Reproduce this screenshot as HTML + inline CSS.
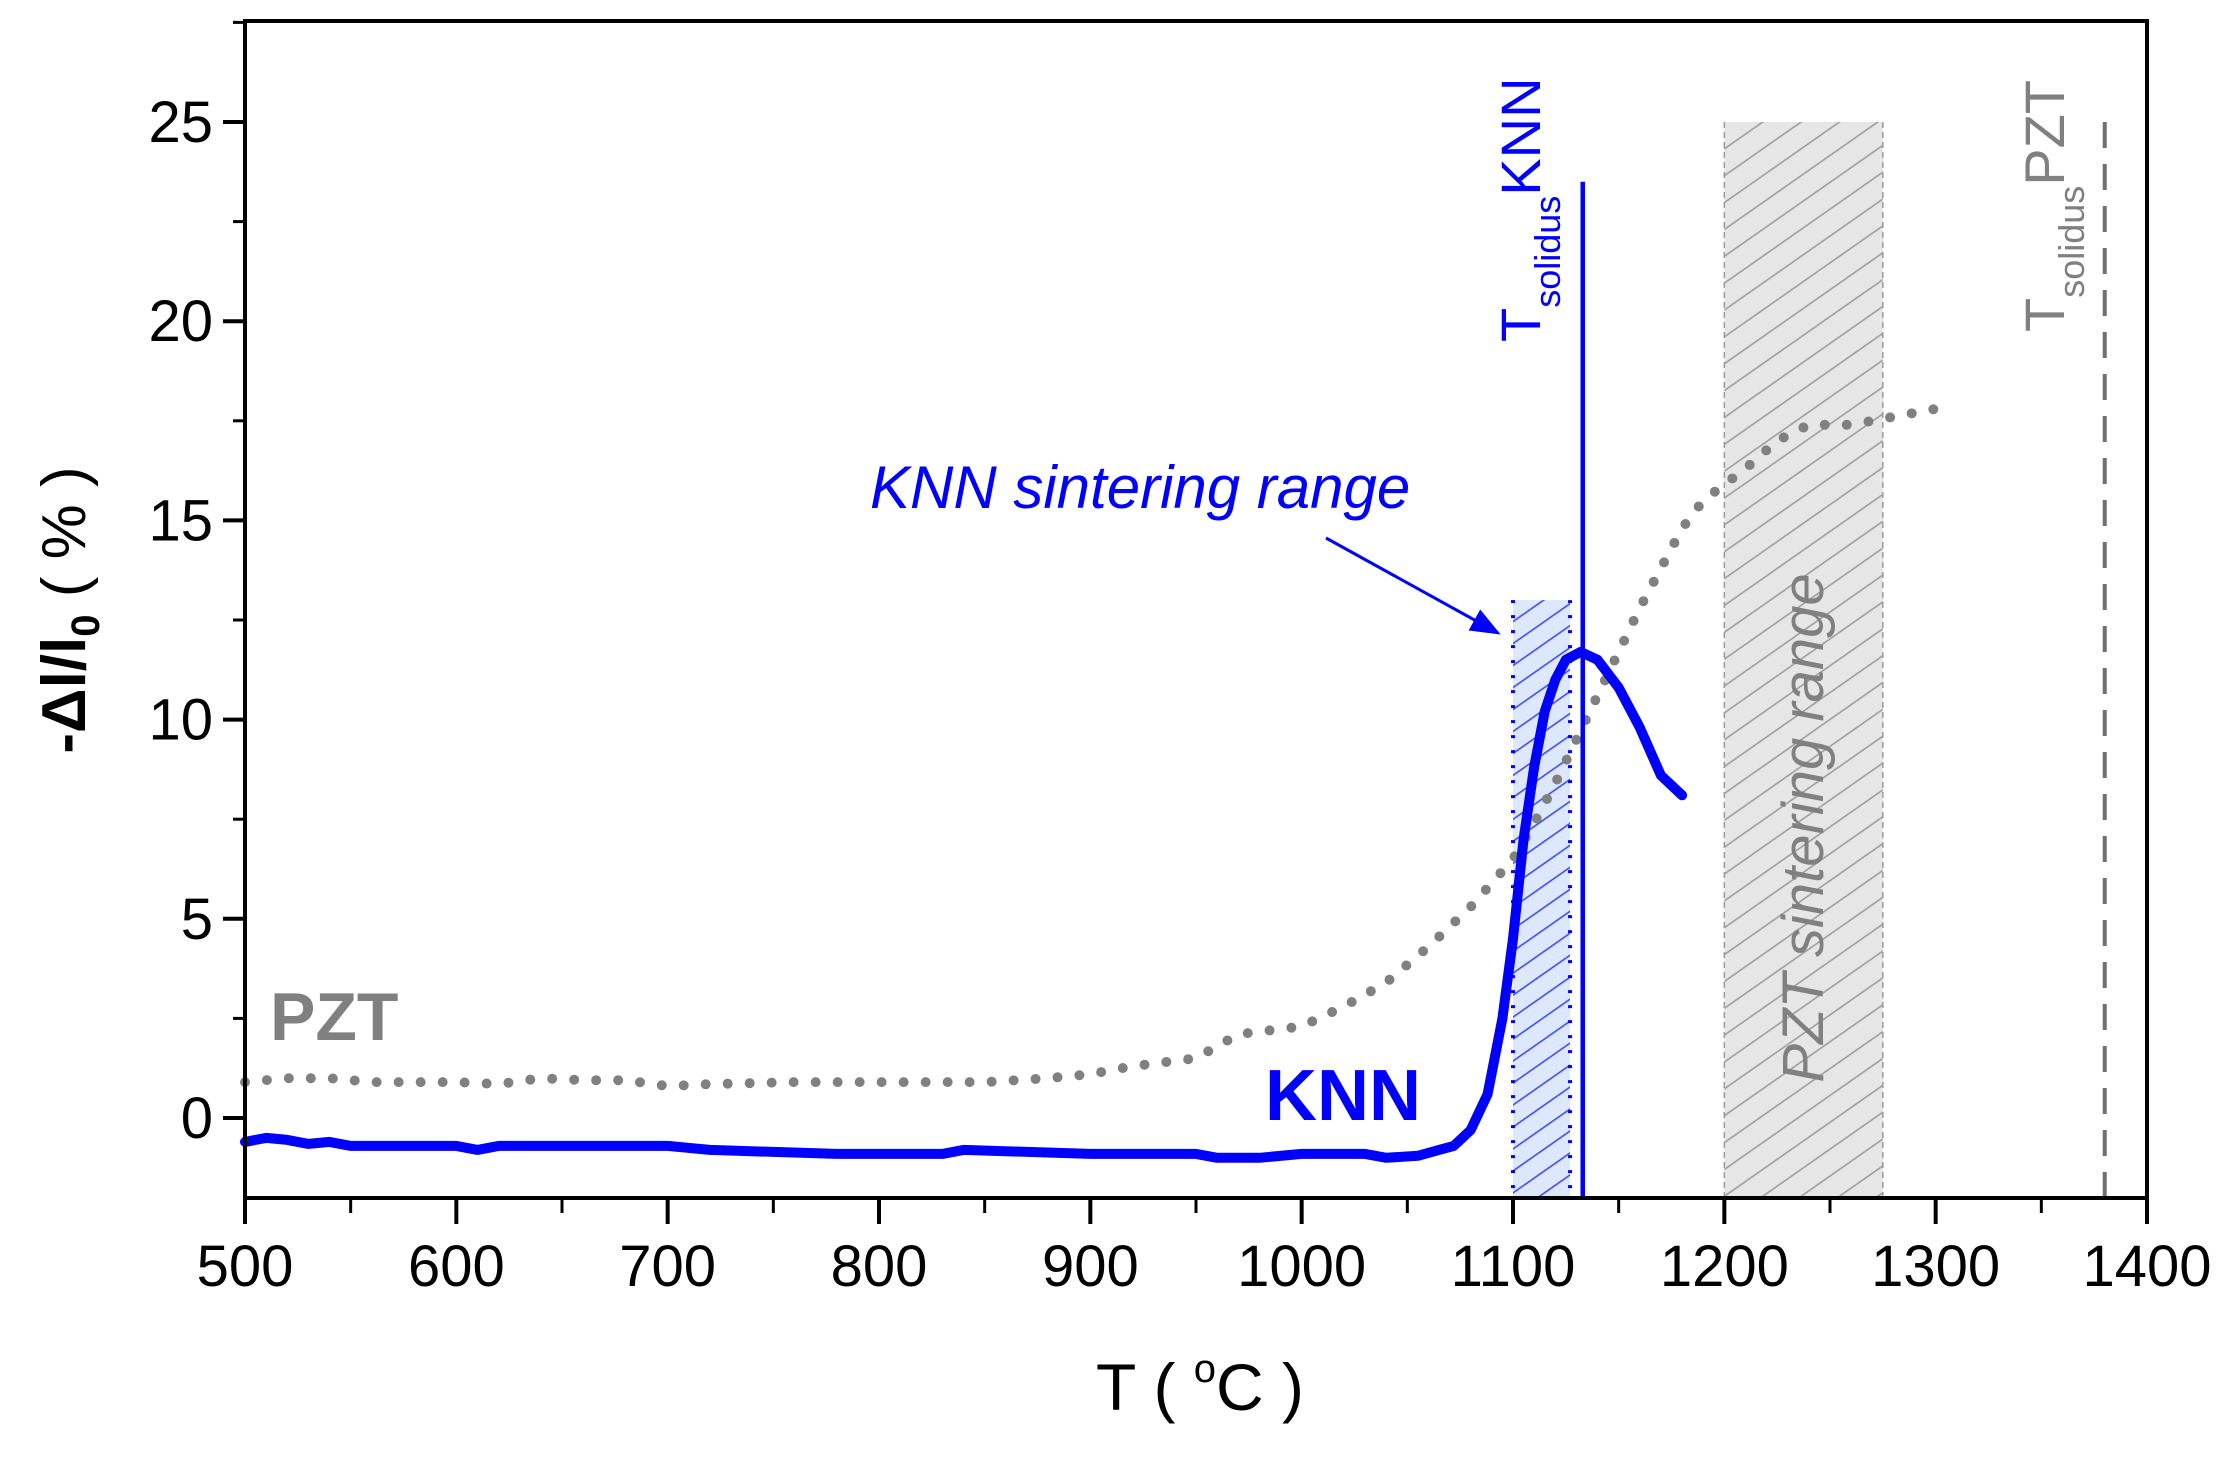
<!DOCTYPE html>
<html><head><meta charset="utf-8"><style>
html,body{margin:0;padding:0;background:#fff;}
svg{display:block;font-family:"Liberation Sans",Arial,sans-serif;}
</style></head><body>
<svg id="chart" width="2230" height="1459" viewBox="0 0 2230 1459" xmlns="http://www.w3.org/2000/svg">
<defs>
<pattern id="hatchBlue" patternUnits="userSpaceOnUse" width="18" height="18" patternTransform="rotate(-35)"><line x1="0" y1="9" x2="18" y2="9" stroke="#3344ee" stroke-width="1.6"/></pattern>
<pattern id="hatchGray" patternUnits="userSpaceOnUse" width="22" height="22" patternTransform="rotate(-35)"><line x1="0" y1="11" x2="22" y2="11" stroke="#999" stroke-width="1.6"/></pattern>
<marker id="arrowHead" markerWidth="10" markerHeight="8" refX="9" refY="4" orient="auto" markerUnits="strokeWidth"><path d="M0,0 L10,4 L0,8 z" fill="#0000ff"/></marker>
</defs>
<g id="plot"></g>
</svg>
<script>
const xTicks = [500,600,700,800,900,1000,1100,1200,1300,1400];
const yTicks = [0,5,10,15,20,25];
const knnT = [500,510,520,530,540,550,560,600,610,620,700,720,780,830,840,900,950,960,980,1000,1030,1040,1055,1065,1072,1080,1088,1095,1100,1105,1110,1115,1120,1125,1132,1140,1150,1160,1170,1180];
const knnV = [-0.6,-0.5,-0.55,-0.65,-0.6,-0.7,-0.7,-0.7,-0.8,-0.7,-0.7,-0.8,-0.9,-0.9,-0.8,-0.9,-0.9,-1.0,-1.0,-0.9,-0.9,-1.0,-0.95,-0.8,-0.7,-0.3,0.6,2.5,4.5,7.0,8.8,10.2,11.0,11.5,11.7,11.5,10.8,9.8,8.6,8.1];
const pztT = [500,520,540,560,600,620,640,660,680,700,720,760,800,850,880,900,920,950,970,1000,1020,1040,1060,1080,1100,1110,1120,1130,1140,1150,1160,1170,1180,1190,1200,1210,1225,1240,1260,1280,1300];
const pztV = [0.9,1.0,1.0,0.9,0.9,0.85,1.0,0.95,0.95,0.8,0.85,0.9,0.9,0.9,1.0,1.1,1.3,1.5,2.1,2.3,2.8,3.4,4.3,5.3,6.5,7.4,8.4,9.5,10.6,11.7,12.8,13.8,14.8,15.5,15.9,16.3,17.0,17.4,17.4,17.6,17.8];
const knnRange = [1100,1127,13];
const pztRange = [1200,1275,25];
const knnSolidus = [1133,23.5];
const pztSolidus = [1380,25];

const L=245,R=2147,T=21,B=1198;
const X=v=>L+(v-500)*(R-L)/900;
const Y=v=>1118-v*39.84;
const NS="http://www.w3.org/2000/svg";
const g=document.getElementById('plot');
function mk(tag,attrs,parent){const e=document.createElementNS(NS,tag);for(const k in attrs)e.setAttribute(k,attrs[k]);(parent||g).appendChild(e);return e;}

let r=mk('rect',{x:X(knnRange[0]),y:Y(knnRange[2]),width:X(knnRange[1])-X(knnRange[0]),height:B-Y(knnRange[2]),fill:'#dde8ff'});


mk('rect',{x:X(knnRange[0]),y:Y(knnRange[2]),width:X(knnRange[1])-X(knnRange[0]),height:B-Y(knnRange[2]),fill:'url(#hatchBlue)'});
[knnRange[0],knnRange[1]].forEach(v=>mk('line',{x1:X(v),x2:X(v),y1:Y(knnRange[2]),y2:B,stroke:'#0000ff','stroke-width':4,'stroke-dasharray':'3 12'}));
r=mk('rect',{x:X(pztRange[0]),y:Y(pztRange[2]),width:X(pztRange[1])-X(pztRange[0]),height:B-Y(pztRange[2]),fill:'#e6e6e6'});


mk('rect',{x:X(pztRange[0]),y:Y(pztRange[2]),width:X(pztRange[1])-X(pztRange[0]),height:B-Y(pztRange[2]),fill:'url(#hatchGray)'});
[pztRange[0],pztRange[1]].forEach(v=>mk('line',{x1:X(v),x2:X(v),y1:Y(pztRange[2]),y2:B,stroke:'#999','stroke-width':1.5,'stroke-dasharray':'6 4'}));

let d=pztT.map((t,i)=>(i?'L':'M')+X(t).toFixed(1)+','+Y(pztV[i]).toFixed(1)).join(' ');
let p=mk('path',{d:d,fill:'none',stroke:'#808080','stroke-width':10,'stroke-linecap':'round','stroke-dasharray':'0 22'});



let l=mk('line',{x1:X(knnSolidus[0]),x2:X(knnSolidus[0]),y1:Y(knnSolidus[1]),y2:B,stroke:'#0000ff','stroke-width':4.5});


l=mk('line',{x1:X(pztSolidus[0]),x2:X(pztSolidus[0]),y1:Y(pztSolidus[1]),y2:B,stroke:'#707070','stroke-width':4,'stroke-dasharray':'26 16'});



d=knnT.map((t,i)=>(i?'L':'M')+X(t).toFixed(1)+','+Y(knnV[i]).toFixed(1)).join(' ');
p=mk('path',{d:d,fill:'none',stroke:'#0000ff','stroke-width':10,'stroke-linejoin':'round','stroke-linecap':'round'});



let f=mk('rect',{x:L,y:T,width:R-L,height:B-T,fill:'none',stroke:'#000','stroke-width':4});



xTicks.forEach((v,i)=>{
  mk('line',{x1:X(v),x2:X(v),y1:B,y2:B+26,stroke:'#000','stroke-width':4});
  if(i<xTicks.length-1) mk('line',{x1:X(v+50),x2:X(v+50),y1:B,y2:B+15,stroke:'#000','stroke-width':3});
  const t=mk('text',{x:X(v),y:B+88,'font-size':58,'text-anchor':'middle',fill:'#000'});
  t.textContent=v;
  
  
});
yTicks.forEach(v=>{
  mk('line',{x1:L,x2:L-22,y1:Y(v),y2:Y(v),stroke:'#000','stroke-width':4});
  mk('line',{x1:L,x2:L-12,y1:Y(v+2.5),y2:Y(v+2.5),stroke:'#000','stroke-width':3});
  const t=mk('text',{x:L-32,y:Y(v)+20,'font-size':58,'text-anchor':'end',fill:'#000'});
  t.textContent=v;
  
  
});
</script>
<svg style="position:absolute;left:0;top:0" width="2230" height="1459" viewBox="0 0 2230 1459" xmlns="http://www.w3.org/2000/svg" font-family="Liberation Sans, Arial, sans-serif">
<text x="1200" y="1410" font-size="66" text-anchor="middle">T ( <tspan font-size="40" dy="-28">o</tspan><tspan dy="28">C )</tspan></text>
<text transform="translate(85,610) rotate(-90)" font-size="62" font-weight="bold" text-anchor="middle">-Δl/l<tspan font-size="40" dy="14">0</tspan><tspan dy="-14" font-weight="normal"> ( % )</tspan></text>
<text x="270" y="1040" font-size="68" font-weight="bold" fill="#808080">PZT</text>
<text x="1265" y="1120" font-size="72" font-weight="bold" fill="#0000ff">KNN</text>
<text x="870" y="508" font-size="60" font-style="italic" fill="#0000ff">KNN sintering range</text>
<line x1="1326" y1="538" x2="1498" y2="633" stroke="#0000ff" stroke-width="3" marker-end="url(#arrowHead)"/>
<text transform="translate(1540,342) rotate(-90)" font-size="56" fill="#0000ff">T<tspan font-size="36" dy="20">solidus</tspan><tspan dy="-20">KNN</tspan></text>
<text transform="translate(2064,332) rotate(-90)" font-size="56" fill="#808080">T<tspan font-size="36" dy="20">solidus</tspan><tspan dy="-20">PZT</tspan></text>
<text transform="translate(1823,828) rotate(-90)" font-size="58" font-style="italic" fill="#808080" text-anchor="middle">PZT sintering range</text>
</svg>
</body></html>
